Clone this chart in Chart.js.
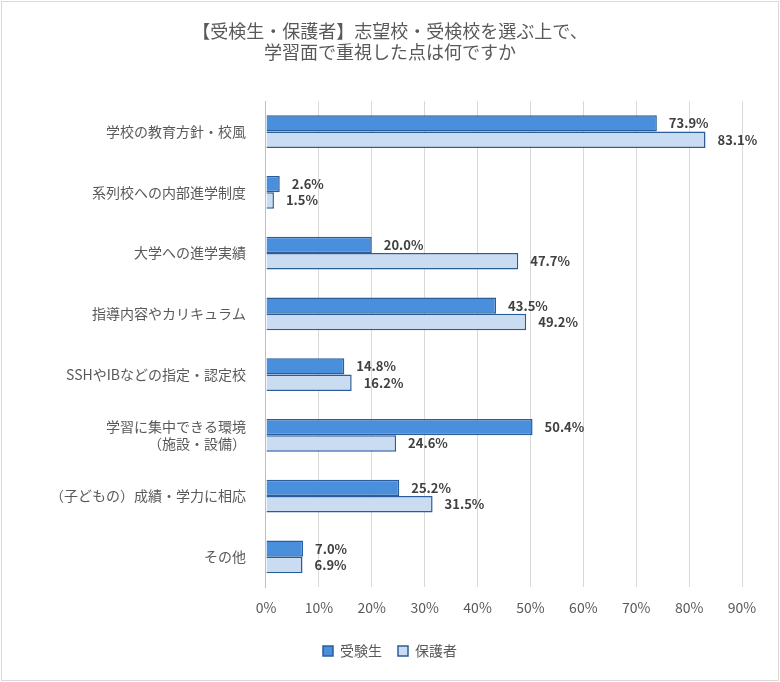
<!DOCTYPE html>
<html>
<head>
<meta charset="utf-8">
<script src="https://cdn.jsdelivr.net/npm/chart.js@4"></script>
<style>
  body { margin: 0; background: #fff; }
  #wrap { position: absolute; left: 1px; top: 1px; width: 776px; height: 678px; border: 1px solid #d9d9d9; }
</style>
</head>
<body>
<div id="wrap"><canvas id="chart" width="776" height="678"></canvas></div>
<script>
const categories = [
  "学校の教育方針・校風",
  "系列校への内部進学制度",
  "大学への進学実績",
  "指導内容やカリキュラム",
  "SSHやIBなどの指定・認定校",
  ["学習に集中できる環境", "（施設・設備）"],
  "（子どもの）成績・学力に相応",
  "その他"
];
const students = [73.9, 2.6, 20.0, 43.5, 14.8, 50.4, 25.2, 7.0];
const parents = [83.1, 1.5, 47.7, 49.2, 16.2, 24.6, 31.5, 6.9];
const xTicks = [0, 10, 20, 30, 40, 50, 60, 70, 80, 90];

const FONT = "'Noto Sans CJK JP', 'Noto Sans', sans-serif";

const valueLabels = {
  id: "valueLabels",
  afterDatasetsDraw(chart) {
    const ctx = chart.ctx;
    ctx.save();
    ctx.font = "bold 13px " + FONT;
    ctx.fillStyle = "#404040";
    ctx.textBaseline = "middle";
    chart.data.datasets.forEach((ds, i) => {
      chart.getDatasetMeta(i).data.forEach((bar, j) => {
        ctx.fillText(ds.data[j].toFixed(1) + "%", bar.x + 12, bar.y);
      });
    });
    ctx.restore();
  }
};

new Chart(document.getElementById("chart"), {
  type: "bar",
  data: {
    labels: categories,
    datasets: [
      {
        label: "受験生",
        data: students,
        backgroundColor: "#4a8fdc",
        borderColor: "#2a5d9a",
        borderWidth: 1.5,
        categoryPercentage: 0.54,
        barPercentage: 1
      },
      {
        label: "保護者",
        data: parents,
        backgroundColor: "#c9dcf2",
        borderColor: "#2a5d9a",
        borderWidth: 1.5,
        categoryPercentage: 0.54,
        barPercentage: 1
      }
    ]
  },
  options: {
    indexAxis: "y",
    responsive: false,
    animation: false,
    layout: { padding: { left: 36, right: 36, top: 10, bottom: 12 } },
    plugins: {
      title: {
        display: true,
        text: ["【受検生・保護者】志望校・受検校を選ぶ上で、", "学習面で重視した点は何ですか"],
        color: "#595959",
        font: { family: FONT, size: 18, weight: "normal" },
        lineHeight: 1.95,
        padding: { top: 8, bottom: 38 }
      },
      legend: {
        position: "bottom",
        labels: {
          color: "#595959",
          font: { family: FONT, size: 14 },
          boxWidth: 10,
          boxHeight: 10,
          padding: 16
        }
      },
      tooltip: { enabled: false }
    },
    scales: {
      x: {
        min: 0,
        max: 90,
        afterBuildTicks: (axis) => { axis.ticks = xTicks.map(v => ({ value: v })); },
        ticks: {
          color: "#595959",
          font: { family: FONT, size: 14 },
          callback: (v) => v + "%",
          padding: 12
        },
        grid: { color: "#d9d9d9", drawTicks: false },
        border: { display: false }
      },
      y: {
        ticks: {
          color: "#595959",
          font: { family: FONT, size: 14 },
          padding: 12
        },
        grid: { display: false },
        border: { color: "#bfbfbf" }
      }
    }
  },
  plugins: [valueLabels]
});
</script>
</body>
</html>
